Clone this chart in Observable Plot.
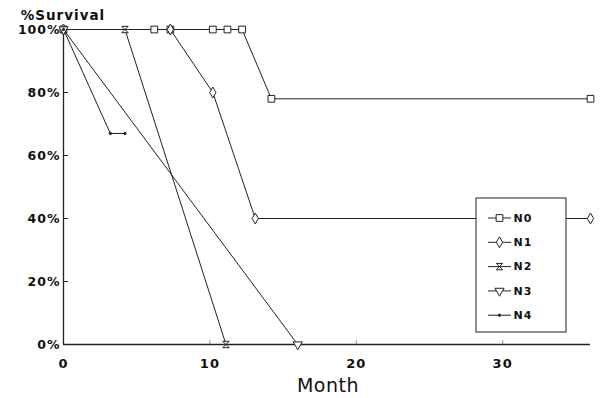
<!DOCTYPE html>
<html><head><meta charset="utf-8">
<script src="https://cdn.jsdelivr.net/npm/d3@7"></script>
<script src="https://cdn.jsdelivr.net/npm/@observablehq/plot@0.6"></script>
<style>body{margin:0;background:#fff}#chart{width:610px;height:398px}</style>
</head><body><div id="chart"></div>
<script>
// ---- data ----
const seriesNames = ["N0", "N1", "N2", "N3", "N4"];
const n0Month = [0, 6.2, 7.3, 10.2, 11.2, 12.2, 14.2, 36];
const n0Surv  = [100, 100, 100, 100, 100, 100, 78, 78];
const n1Month = [0, 7.3, 10.2, 13.1, 36];
const n1Surv  = [100, 100, 80, 40, 40];
const n2Month = [0, 4.2, 11.1];
const n2Surv  = [100, 100, 0];
const n3Month = [0, 16];
const n3Surv  = [100, 0];
const n4Month = [0, 3.2, 4.2];
const n4Surv  = [100, 67, 67];
const xTicks = [0, 10, 20, 30];
const yTicks = [0, 20, 40, 60, 80, 100];
const yTickLabels = ["0%", "20%", "40%", "60%", "80%", "100%"];

const months = [n0Month, n1Month, n2Month, n3Month, n4Month];
const survs = [n0Surv, n1Surv, n2Surv, n3Surv, n4Surv];
const rows = seriesNames.flatMap((s, i) => months[i].map((m, j) => ({series: s, month: m, surv: survs[i][j]})));

// hourglass / bow-tie symbol
const hourglass = {
  draw(ctx, size) {
    const r = Math.sqrt(size) / 2;
    ctx.moveTo(-r, -r); ctx.lineTo(r, -r); ctx.lineTo(-r, r); ctx.lineTo(r, r); ctx.closePath();
  }
};
const symbolOf = {N0: "square", N1: "diamond", N2: hourglass, N3: "triangle", N4: "circle"};
const rotateOf = {N0: 0, N1: 0, N2: 0, N3: 180, N4: 0};
const rOf = {N0: 3.8, N1: 3.3, N2: 3.6, N3: 3.4, N4: 1.2};
const ink = "#222";

const marks = [
  Plot.ruleY([0], {stroke: ink, strokeWidth: 1.3}),
  Plot.ruleX([0], {stroke: ink, strokeWidth: 1.3}),
  Plot.ruleY(yTicks, {y: d => d, x1: 0, x2: 0.35, stroke: ink}),
  Plot.ruleX(xTicks.slice(1), {x: d => d, y1: 0, y2: 1.2, stroke: "#888"}),
  Plot.line(rows, {x: "month", y: "surv", z: "series", stroke: ink, strokeWidth: 1, curve: "linear"}),
  ...seriesNames.map(s => Plot.dot(rows.filter(d => d.series === s), {
    x: "month", y: "surv", symbol: () => symbolOf[s], r: rOf[s], rotate: rotateOf[s],
    stroke: ink, strokeWidth: 1, fill: s === "N4" ? ink : "white"
  })),
  Plot.axisY({ticks: yTicks, tickSize: 0, tickPadding: 3, fontSize: 12.5, tickFormat: (d) => yTickLabels[yTicks.indexOf(d)]}),
  Plot.axisX({ticks: xTicks, tickSize: 0, tickPadding: 14, fontSize: 13, tickFormat: d => String(d)})
];

const chart = Plot.plot({
  width: 610, height: 398,
  marginLeft: 63, marginRight: 20, marginTop: 29, marginBottom: 54,
  x: {domain: [0, 36], label: null},
  y: {domain: [0, 100], label: null},
  symbol: {type: "identity"},
  style: {fontFamily: "DejaVu Sans", fontWeight: "bold", fontSize: "12px", color: "#111", background: "white", letterSpacing: "1px"},
  marks
});
document.getElementById("chart").appendChild(chart);

// title, x label and legend drawn into the same SVG
const svg = d3.select(chart);
svg.append("text").attr("x", 63).attr("y", 20)
  .attr("font-family", "DejaVu Sans").attr("font-weight", "bold").attr("font-size", 13.5)
  .attr("fill", "#111").text("%Survival");
svg.append("text").attr("x", 328).attr("y", 392).attr("text-anchor", "middle")
  .attr("font-family", "DejaVu Sans").attr("font-weight", "normal").attr("font-size", 19).attr("letter-spacing", "0.5px")
  .attr("fill", "#111").text("Month");

const lg = svg.append("g");
lg.append("rect").attr("x", 476).attr("y", 198).attr("width", 90).attr("height", 134)
  .attr("fill", "white").attr("stroke", ink).attr("stroke-width", 1);
const d3sym = {N0: d3.symbolSquare, N1: d3.symbolDiamond, N2: hourglass, N3: d3.symbolTriangle, N4: d3.symbolCircle};
seriesNames.forEach((s, i) => {
  const y = 218 + i * 24.3;
  const g = lg.append("g");
  g.append("line").attr("x1", 488).attr("x2", 511).attr("y1", y).attr("y2", y).attr("stroke", ink).attr("stroke-width", 1);
  g.append("path").attr("transform", `translate(499.5,${y}) rotate(${rotateOf[s]})`)
    .attr("d", d3.symbol(d3sym[s], rOf[s] * rOf[s] * Math.PI)())
    .attr("fill", s === "N4" ? ink : "white").attr("stroke", ink);
  g.append("text").attr("x", 523).attr("y", y).attr("dy", "0.35em")
    .attr("font-family", "DejaVu Sans").attr("font-weight", "bold").attr("font-size", 11)
    .attr("fill", "#111").text(s);
});
</script></body></html>
